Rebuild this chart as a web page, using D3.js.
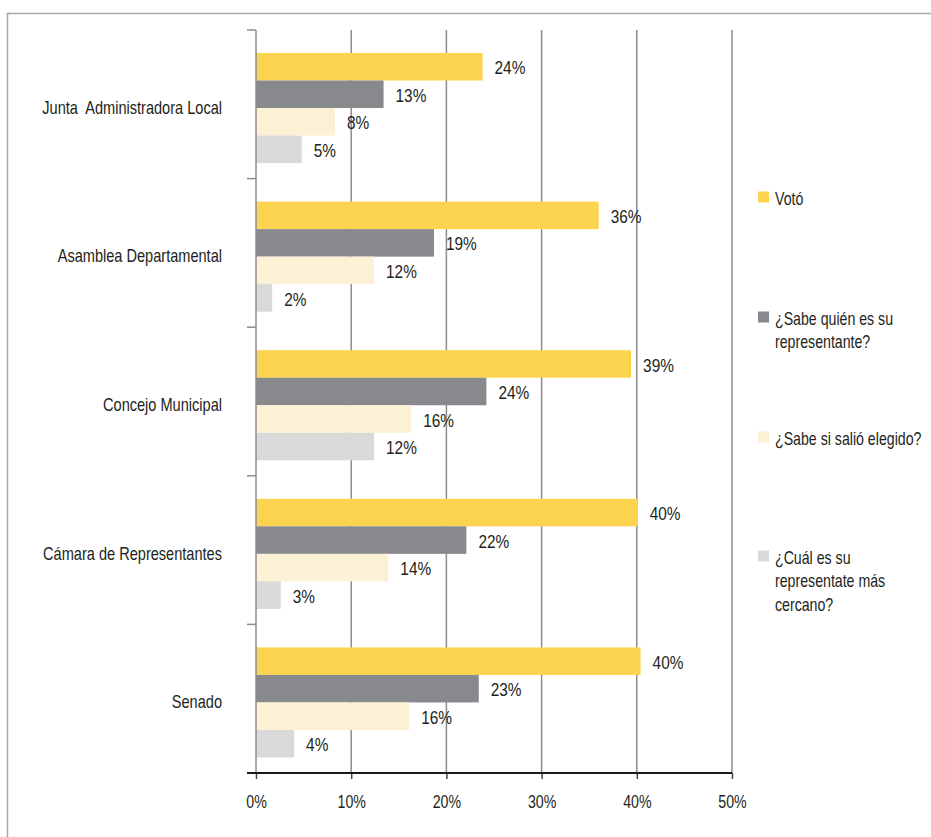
<!DOCTYPE html>
<html>
<head>
<meta charset="utf-8">
<script src="https://cdn.jsdelivr.net/npm/d3@7"></script>
<style>
  html, body { margin: 0; padding: 0; background: #fff; }
  svg { display: block; }
  text { font-family: "Liberation Sans", Arial, sans-serif; fill: #231f20; white-space: pre; }
</style>
</head>
<body>
<svg id="chart" width="931" height="837"></svg>
<script>
// ---- data ----
const categories = ["Junta  Administradora Local", "Asamblea Departamental", "Concejo Municipal", "Cámara de Representantes", "Senado"];
const seriesNames = ["Votó", "¿Sabe quién es su representante?", "¿Sabe si salió elegido?", "¿Cuál es su representate más cercano?"];
const voto      = [23.8, 36.0, 39.4, 40.1, 40.4];
const sabeQuien = [13.4, 18.7, 24.2, 22.1, 23.4];
const sabeSi    = [8.3, 12.4, 16.3, 13.9, 16.1];
const cercano   = [4.8, 1.7, 12.4, 2.6, 4.0];
const xTicks = [0, 10, 20, 30, 40, 50];
const legendLines = [["Votó"], ["¿Sabe quién es su", "representante?"], ["¿Sabe si salió elegido?"], ["¿Cuál es su", "representate más", "cercano?"]];
const colors = ["#fdd44f", "#88898d", "#fdf1d5", "#d9d9d9"];

const seriesValues = [voto, sabeQuien, sabeSi, cercano];
const SX = 0.81; // horizontal condensing of text (narrow face look)

const svg = d3.select("#chart");

// outer frame (left + top lines)
svg.append("path")
  .attr("d", "M7.5,837 L7.5,13.5 L931,13.5")
  .attr("fill", "none").attr("stroke", "#a6a6a6").attr("stroke-width", 1.5);

const x = d3.scaleLinear().domain([0, 50]).range([256, 732]);
const y0 = d3.scaleBand().domain(categories).range([30, 773]).padding(0);
const y1 = d3.scaleBand().domain(seriesNames).range([23, y0.bandwidth() - 15.5]).padding(0);

// gridlines
svg.append("g").selectAll("line").data(xTicks.slice(1)).join("line")
  .attr("x1", d => x(d)).attr("x2", d => x(d))
  .attr("y1", 30).attr("y2", 773)
  .attr("stroke", "#8c8c8c").attr("stroke-width", 1.5);

// bars
const groups = svg.append("g").selectAll("g").data(categories).join("g")
  .attr("transform", d => `translate(0,${y0(d)})`);

groups.each(function(cat, ci) {
  const g = d3.select(this);
  seriesNames.forEach((s, si) => {
    const v = seriesValues[si][ci];
    g.append("rect")
      .attr("x", x(0)).attr("y", y1(s))
      .attr("width", x(v) - x(0)).attr("height", y1.bandwidth())
      .attr("fill", colors[si]);
    g.append("text")
      .attr("transform", `translate(${x(v) + 12},${y1(s) + y1.bandwidth() / 2 + 1}) scale(${SX},1)`)
      .attr("dominant-baseline", "central")
      .attr("font-size", 19)
      .text(d3.format(".0f")(v) + "%");
  });
});

// y axis (left)
const yAxisG = svg.append("g");
yAxisG.append("line").attr("x1", 256).attr("x2", 256).attr("y1", 30).attr("y2", 773)
  .attr("stroke", "#8c8c8c").attr("stroke-width", 1.5);
const boundaries = categories.map(c => y0(c)).concat([y0.range()[1]]);
yAxisG.selectAll("line.tk").data(boundaries).join("line").attr("class", "tk")
  .attr("x1", 247).attr("x2", 256).attr("y1", d => d).attr("y2", d => d)
  .attr("stroke", "#8c8c8c").attr("stroke-width", 1.5);
yAxisG.selectAll("text").data(categories).join("text")
  .attr("transform", d => `translate(222,${y0(d) + y0.bandwidth() / 2 + 3}) scale(${SX},1)`)
  .attr("text-anchor", "end").attr("dominant-baseline", "central")
  .attr("font-size", 18)
  .text(d => d);

// x axis
const xAxis = d3.axisBottom(x).tickValues(xTicks).tickFormat(d => d + "%").tickSize(6).tickPadding(17);
const xg = svg.append("g").attr("transform", "translate(0,773)").call(xAxis);
xg.select(".domain").remove();
xg.append("line").attr("x1", 247).attr("x2", 732).attr("y1", 0).attr("y2", 0)
  .attr("stroke", "#1a1a1a").attr("stroke-width", 2);
xg.selectAll(".tick line").attr("stroke", "#444").attr("stroke-width", 1.5);
xg.selectAll(".tick text").attr("font-size", 17.5).attr("fill", "#231f20")
  .attr("transform", `scale(${SX},1)`)
  .style("font-family", '"Liberation Sans", Arial, sans-serif');

// legend
const legendY = [197, 317, 437, 556];
const lg = svg.append("g").selectAll("g").data(seriesNames).join("g")
  .attr("transform", (d, i) => `translate(758,${legendY[i]})`);
lg.append("rect").attr("x", 0).attr("y", -5.5).attr("width", 11).attr("height", 11)
  .attr("fill", (d, i) => colors[i]);
lg.each(function(d, i) {
  const t = d3.select(this).append("text")
    .attr("transform", `translate(17,1) scale(${SX},1)`)
    .attr("font-size", 17.5).attr("dominant-baseline", "central");
  legendLines[i].forEach((ln, li) => {
    t.append("tspan").attr("x", 0).attr("dy", li === 0 ? 0 : 23.5).text(ln);
  });
});
</script>
</body>
</html>
